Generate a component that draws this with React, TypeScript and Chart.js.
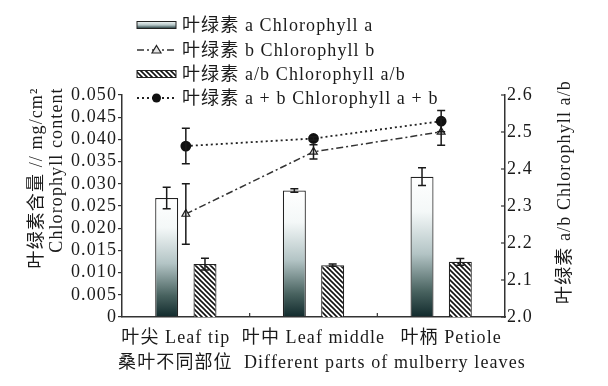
import React, { useEffect, useRef } from 'react';
import { Chart, registerables } from 'chart.js';
Chart.register(...registerables);

const categories = ['叶尖 Leaf tip', '叶中 Leaf middle', '叶柄 Petiole'];
const chlA = [0.0268, 0.0285, 0.0316];
const chlAErr = [0.0024, 0.0004, 0.002];
const chlB = [0.0232, 0.0372, 0.0417];
const chlBErr = [0.0068, 0.0016, 0.003];
const chlAB = [0.0385, 0.0402, 0.0441];
const chlABErr = [0.004, 0.0004, 0.0024];
const ratioAB = [2.143, 2.14, 2.149];
const ratioABErr = [0.016, 0.003, 0.009];
const leftTickLabels = ['0', '0.005', '0.010', '0.015', '0.020', '0.025', '0.030', '0.035', '0.040', '0.045', '0.050'];
const rightTickLabels = ['2.0', '2.1', '2.2', '2.3', '2.4', '2.5', '2.6'];
const legendLabels = ['叶绿素 a Chlorophyll a', '叶绿素 b Chlorophyll b', '叶绿素 a/b Chlorophyll a/b', '叶绿素 a + b Chlorophyll a + b'];
const leftTitle1 = '叶绿素含量 // mg/cm²';
const leftTitle2 = 'Chlorophyll content';
const rightTitle = '叶绿素 a/b Chlorophyll a/b';
const xTitle = '桑叶不同部位  Different parts of mulberry leaves';

const FONT = "'Liberation Serif', 'Noto Sans CJK SC', serif";
const INK = '#1a1a1a';
const SPACING = '1.1px';
const X_LABEL_SPREAD = 10;

function makeHatch(): CanvasPattern | string {
  const c = document.createElement('canvas');
  c.width = 5; c.height = 5;
  const g = c.getContext('2d');
  if (!g) return '#888';
  g.fillStyle = '#fff';
  g.fillRect(0, 0, 5, 5);
  g.strokeStyle = '#111';
  g.lineWidth = 1.6;
  for (const x0 of [-5, 0, 5]) {
    g.beginPath();
    g.moveTo(x0 - 1, -1);
    g.lineTo(x0 + 6, 6);
    g.stroke();
  }
  return g.createPattern(c, 'repeat') || '#888';
}

function barGradient(ctx: CanvasRenderingContext2D, top: number, bottom: number) {
  const gr = ctx.createLinearGradient(0, top, 0, bottom);
  gr.addColorStop(0, '#ffffff');
  gr.addColorStop(0.25, '#f4f8f8');
  gr.addColorStop(0.55, '#b3c4c5');
  gr.addColorStop(0.82, '#48625f');
  gr.addColorStop(1, '#112a2c');
  return gr;
}

const deco = {
  id: 'deco',
  beforeUpdate(chart: any) {
    (chart.ctx as any).letterSpacing = SPACING;
  },
  beforeDraw(chart: any) {
    (chart.ctx as any).letterSpacing = SPACING;
  },
  afterDatasetsDraw(chart: any) {
    const ctx = chart.ctx as CanvasRenderingContext2D;
    const drawErr = (dsIndex: number, values: number[], errs: number[], axisId: string, cap: number) => {
      const meta = chart.getDatasetMeta(dsIndex);
      const sc = chart.scales[axisId];
      ctx.save();
      ctx.strokeStyle = INK;
      ctx.lineWidth = 1.5;
      ctx.setLineDash([]);
      meta.data.forEach((el: any, i: number) => {
        const x = el.x;
        const y1 = sc.getPixelForValue(values[i] + errs[i]);
        const y2 = sc.getPixelForValue(values[i] - errs[i]);
        ctx.beginPath();
        ctx.moveTo(x, y1); ctx.lineTo(x, y2);
        ctx.moveTo(x - cap, y1); ctx.lineTo(x + cap, y1);
        ctx.moveTo(x - cap, y2); ctx.lineTo(x + cap, y2);
        ctx.stroke();
      });
      ctx.restore();
    };
    drawErr(0, chlA, chlAErr, 'y', 4);
    drawErr(1, ratioAB, ratioABErr, 'y2', 4);
    drawErr(2, chlB, chlBErr, 'y', 4);
    drawErr(3, chlAB, chlABErr, 'y', 4);
  },
  afterDraw(chart: any) {
    const ctx = chart.ctx as CanvasRenderingContext2D;
    (ctx as any).letterSpacing = SPACING;
    const area = chart.chartArea;
    const xs = chart.scales.x;
    const y2 = chart.scales.y2;
    ctx.save();
    ctx.strokeStyle = '#333';
    ctx.lineWidth = 1.2;
    for (let i = 0; i < categories.length - 1; i++) {
      const xb = (xs.getPixelForValue(i) + xs.getPixelForValue(i + 1)) / 2;
      ctx.beginPath();
      ctx.moveTo(xb, area.bottom);
      ctx.lineTo(xb, area.bottom - 4);
      ctx.stroke();
    }
    y2.ticks.forEach((t: any) => {
      const yy = y2.getPixelForValue(t.value);
      ctx.beginPath();
      ctx.moveTo(area.right - 4, yy);
      ctx.lineTo(area.right, yy);
      ctx.stroke();
    });
    ctx.restore();

    ctx.save();
    ctx.fillStyle = INK;
    ctx.font = `18px ${FONT}`;
    ctx.textAlign = 'center';
    ctx.textBaseline = 'middle';
    // category labels (spread slightly as in the original typesetting)
    categories.forEach((lab, i) => {
      const cx = xs.getPixelForValue(i) + (i - (categories.length - 1) / 2) * X_LABEL_SPREAD;
      ctx.fillText(lab, cx, area.bottom + 21);
    });
    const vText = (t: string, x: number, y: number) => {
      ctx.save();
      ctx.translate(x, y);
      ctx.rotate(-Math.PI / 2);
      ctx.fillText(t, 0, 0);
      ctx.restore();
    };
    vText(leftTitle1, 37, 178);
    vText(leftTitle2, 57, 170);
    vText(rightTitle, 565, 192);
    ctx.fillText(xTitle, 322, 363);
    ctx.restore();

    ctx.save();
    const lx0 = 137, lx1 = 176, tx = 182;
    const rows = [25, 50, 74, 98];
    ctx.font = `18px ${FONT}`;
    ctx.fillStyle = INK;
    ctx.textAlign = 'left';
    ctx.textBaseline = 'middle';
    rows.forEach((ry, i) => {
      ctx.fillText(legendLabels[i], tx, ry + 1);
    });
    {
      const ry = rows[0];
      const gr = ctx.createLinearGradient(0, ry - 3.5, 0, ry + 3.5);
      gr.addColorStop(0, '#f2f6f6');
      gr.addColorStop(0.5, '#b5c6c7');
      gr.addColorStop(1, '#1c3537');
      ctx.fillStyle = gr;
      ctx.fillRect(lx0, ry - 3.5, lx1 - lx0, 7);
      ctx.strokeStyle = '#222';
      ctx.lineWidth = 1;
      ctx.strokeRect(lx0, ry - 3.5, lx1 - lx0, 7);
    }
    {
      const ry = rows[1];
      ctx.strokeStyle = '#333';
      ctx.lineWidth = 1.5;
      ctx.setLineDash([7, 3, 2, 3]);
      ctx.beginPath(); ctx.moveTo(lx0, ry); ctx.lineTo(lx1, ry); ctx.stroke();
      ctx.setLineDash([]);
      const cx = (lx0 + lx1) / 2;
      ctx.beginPath();
      ctx.moveTo(cx, ry - 4.5); ctx.lineTo(cx + 4.5, ry + 3); ctx.lineTo(cx - 4.5, ry + 3); ctx.closePath();
      ctx.fillStyle = '#e6e6e6'; ctx.fill();
      ctx.strokeStyle = '#222'; ctx.lineWidth = 1.2; ctx.stroke();
    }
    {
      const ry = rows[2];
      ctx.fillStyle = makeHatch() as any;
      ctx.fillRect(lx0, ry - 3.5, lx1 - lx0, 7);
      ctx.strokeStyle = '#222';
      ctx.lineWidth = 1;
      ctx.strokeRect(lx0, ry - 3.5, lx1 - lx0, 7);
    }
    {
      const ry = rows[3];
      ctx.strokeStyle = '#222';
      ctx.lineWidth = 1.8;
      ctx.setLineDash([2, 3]);
      ctx.beginPath(); ctx.moveTo(lx0, ry); ctx.lineTo(lx1, ry); ctx.stroke();
      ctx.setLineDash([]);
      const cx = (lx0 + lx1) / 2;
      ctx.beginPath(); ctx.arc(cx, ry, 4.5, 0, Math.PI * 2);
      ctx.fillStyle = '#111'; ctx.fill();
    }
    ctx.restore();
  },
};

export default function App() {
  const ref = useRef<HTMLCanvasElement>(null);
  useEffect(() => {
    if (!ref.current) return;
    const hatch = makeHatch();
    const chart = new Chart(ref.current, {
      type: 'bar',
      data: {
        labels: categories,
        datasets: [
          {
            type: 'bar',
            label: legendLabels[0],
            data: chlA,
            yAxisID: 'y',
            order: 2,
            backgroundColor: (c: any) => {
              const ch = c.chart;
              const sc = ch.scales && ch.scales.y;
              if (!sc || c.raw == null || !ch.chartArea) return '#ccc';
              return barGradient(ch.ctx, sc.getPixelForValue(c.raw), sc.getPixelForValue(0));
            },
            borderColor: '#222',
            borderWidth: 1.2,
            categoryPercentage: 0.6,
            barPercentage: 0.6,
          } as any,
          {
            type: 'bar',
            label: legendLabels[2],
            data: ratioAB,
            yAxisID: 'y2',
            order: 2,
            backgroundColor: hatch as any,
            borderColor: '#222',
            borderWidth: 1.2,
            categoryPercentage: 0.6,
            barPercentage: 0.6,
          } as any,
          {
            type: 'line',
            label: legendLabels[1],
            data: chlB,
            yAxisID: 'y',
            order: 0,
            borderColor: '#333',
            borderWidth: 1.5,
            borderDash: [7, 3, 2, 3],
            pointStyle: 'triangle',
            pointRadius: 4.5,
            pointBackgroundColor: '#e6e6e6',
            pointBorderColor: '#222',
            pointBorderWidth: 1.2,
            fill: false,
          } as any,
          {
            type: 'line',
            label: legendLabels[3],
            data: chlAB,
            yAxisID: 'y',
            order: 0,
            borderColor: '#222',
            borderWidth: 1.8,
            borderDash: [2, 3],
            pointStyle: 'circle',
            pointRadius: 4.5,
            pointBackgroundColor: '#111',
            pointBorderColor: '#111',
            fill: false,
          } as any,
        ],
      },
      options: {
        responsive: false,
        animation: false,
        devicePixelRatio: 1,
        layout: { padding: { top: 95, left: 0, right: 0, bottom: 0 } },
        plugins: { legend: { display: false }, tooltip: { enabled: false }, title: { display: false } },
        scales: {
          x: {
            offset: true,
            grid: { display: false, drawTicks: false },
            border: { display: true, color: '#333', width: 1.5 },
            ticks: { display: false },
            afterFit: (s: any) => { s.height = 69; },
          },
          y: {
            position: 'left',
            min: 0,
            max: 0.05,
            ticks: {
              stepSize: 0.005,
              autoSkip: false,
              font: { family: FONT, size: 18 },
              color: INK,
              padding: 1,
              callback: (_v: any, i: number) => leftTickLabels[i],
            },
            grid: { drawOnChartArea: false, drawTicks: true, tickLength: 4, color: '#333', lineWidth: 1.2 },
            border: { display: true, color: '#333', width: 1.5 },
            afterFit: (s: any) => { s.width = 122; },
          },
          y2: {
            position: 'right',
            min: 2.0,
            max: 2.6,
            ticks: {
              stepSize: 0.1,
              autoSkip: false,
              font: { family: FONT, size: 18 },
              color: INK,
              padding: 2,
              callback: (_v: any, i: number) => rightTickLabels[i],
            },
            grid: { drawOnChartArea: false, drawTicks: false },
            border: { display: true, color: '#333', width: 1.5 },
            afterFit: (s: any) => { s.width = 103; },
          },
        },
      } as any,
      plugins: [deco],
    });
    return () => chart.destroy();
  }, []);
  return (
    <div style={{ position: 'absolute', left: 0, top: 0, width: 608, height: 386, background: '#fff' }}>
      <canvas ref={ref} width={608} height={386} style={{ width: 608, height: 386, display: 'block' }} />
    </div>
  );
}
